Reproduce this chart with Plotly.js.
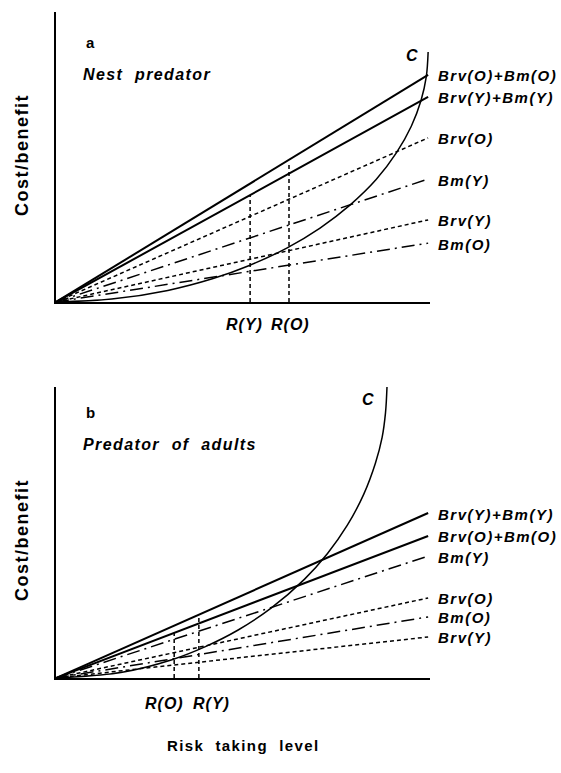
<!DOCTYPE html>
<html>
<head>
<meta charset="utf-8">
<script src="https://cdn.plot.ly/plotly-3.0.1.min.js"></script>
<style>
html,body{margin:0;padding:0;background:#fff;}
#chart{width:561px;height:773px;}
</style>
</head>
<body>
<div id="chart"></div>
<script>
// ---------- DATA (x: risk level 0..10, y: cost/benefit 0..10) ----------
const lineEndX = 9.95;

// Panel a: Nest predator — line values at the right end
const aLabels = ["Brv(O)+Bm(O)", "Brv(Y)+Bm(Y)", "Brv(O)", "Bm(Y)", "Brv(Y)", "Bm(O)"];
const aEnds   = [7.83, 7.07, 5.66, 4.24, 2.83, 2.03];
// Panel a: cost curve C
const aCostX = [0, 1.49, 2.99, 4.18, 5.17, 6.17, 7.06, 7.86, 8.56, 9.10, 9.50, 9.76, 9.90, 9.95];
const aCostY = [0, 0.10, 0.40, 0.80, 1.26, 1.86, 2.55, 3.34, 4.22, 5.14, 6.06, 6.95, 7.76, 8.62];
// Panel a: optimal risk levels R(Y), R(O) and their heights on the summed lines
const aRLabels = ["R(Y)", "R(O)"];
const aRX      = [5.19, 6.23];
const aRTop    = [3.69, 4.83];

// Panel b: Predator of adults — line values at the right end
const bLabels = ["Brv(Y)+Bm(Y)", "Brv(O)+Bm(O)", "Bm(Y)", "Brv(O)", "Bm(O)", "Brv(Y)"];
const bEnds   = [5.67, 4.88, 4.19, 2.75, 2.10, 1.41];
// Panel b: cost curve C
const bCostX = [0, 1.77, 3.10, 3.98, 4.87, 5.75, 6.64, 7.26, 7.79, 8.23, 8.54, 8.72, 8.81, 8.85];
const bCostY = [0, 0.20, 0.63, 1.07, 1.65, 2.40, 3.39, 4.28, 5.25, 6.32, 7.38, 8.27, 9.11, 10.0];
// Panel b: optimal risk levels
const bRLabels = ["R(O)", "R(Y)"];
const bRX      = [3.16, 3.82];
const bRTop    = [1.54, 2.17];

// ---------- BUILD ----------
const W = 561, H = 773;
const FONT = "Liberation Sans, Arial, Helvetica, sans-serif";

function styleFor(label) {
  if (label.indexOf("+") >= 0) return {color: "black", width: 2, dash: "solid"};
  if (label.indexOf("Brv") === 0) return {color: "black", width: 1.5, dash: "4px,3px"};
  return {color: "black", width: 1.5, dash: "13px,5px,2px,5px"};
}

const traces = [];
const annotations = [];
const ls = (t, v) => '<span style="letter-spacing:' + v + 'px">' + t + '</span>';

function addPanel(labels, ends, costX, costY, rX, rTop, xa, ya) {
  labels.forEach((lab, i) => {
    traces.push({
      type: "scatter", mode: "lines", xaxis: xa, yaxis: ya,
      x: [0, lineEndX], y: [0, ends[i]],
      line: styleFor(lab), hoverinfo: "skip"
    });
    annotations.push({
      xref: xa, yref: ya, x: lineEndX, y: ends[i],
      xanchor: "left", yanchor: "middle", xshift: 8, yshift: -1,
      showarrow: false,
      text: ls(lab, 1.5),
      font: {family: FONT, size: 15, color: "black", weight: "bold", style: "italic"}
    });
  });
  traces.push({
    type: "scatter", mode: "lines", xaxis: xa, yaxis: ya,
    x: costX, y: costY,
    line: {color: "black", width: 1.5, shape: "spline", smoothing: 1}, hoverinfo: "skip"
  });
  rX.forEach((rx, i) => {
    traces.push({
      type: "scatter", mode: "lines", xaxis: xa, yaxis: ya,
      x: [rx, rx], y: [0, rTop[i]],
      line: {color: "black", width: 1.5, dash: "4px,3px"}, hoverinfo: "skip"
    });
  });
}

addPanel(aLabels, aEnds, aCostX, aCostY, aRX, aRTop, "x", "y");
addPanel(bLabels, bEnds, bCostX, bCostY, bRX, bRTop, "x2", "y2");

function pa(text, px, py, opts) {
  return Object.assign({
    xref: "paper", yref: "paper", x: px / W, y: 1 - py / H,
    xanchor: "left", yanchor: "middle", showarrow: false, text: text,
    font: {family: FONT, size: 16, color: "black", weight: "bold", style: "italic"}
  }, opts || {});
}
const boldUp = {family: FONT, size: 15, color: "black", weight: "bold", style: "normal"};

// panel a texts
annotations.push(pa("a", 84, 43, {font: boldUp}));
annotations.push(pa(ls("Nest&nbsp;&nbsp;predator", 1.4), 81, 75));
annotations.push(pa("C", 404, 56));
annotations.push(pa(ls(aRLabels[0], 1), 244, 324, {xanchor: "center"}));
annotations.push(pa(ls(aRLabels[1], 1), 290, 324, {xanchor: "center"}));
// panel b texts
annotations.push(pa("b", 84, 412, {font: boldUp}));
annotations.push(pa(ls("Predator&nbsp;&nbsp;of&nbsp;&nbsp;adults", 1.4), 81, 444));
annotations.push(pa("C", 360, 399));
annotations.push(pa(ls(bRLabels[0], 1), 164, 703, {xanchor: "center"}));
annotations.push(pa(ls(bRLabels[1], 1), 211, 703, {xanchor: "center"}));
// axis titles
const titleFont = Object.assign({}, boldUp, {size: 18});
annotations.push(pa(ls("Cost/benefit", 1.5), 22, 155, {xanchor: "center", textangle: -90, font: titleFont}));
annotations.push(pa(ls("Cost/benefit", 1.5), 22, 540, {xanchor: "center", textangle: -90, font: titleFont}));
annotations.push(pa(ls("Risk&nbsp;&nbsp;taking&nbsp;&nbsp;level", 1.4), 243, 745, {xanchor: "center", font: boldUp}));

const axBase = {
  range: [0, 10], showline: true, linecolor: "black", linewidth: 2,
  showgrid: false, zeroline: false, showticklabels: false, ticks: "", fixedrange: true
};
const xDom = [56 / W, 430 / W];
const layout = {
  width: W, height: H, margin: {l: 0, r: 0, t: 0, b: 0},
  paper_bgcolor: "white", plot_bgcolor: "white", showlegend: false,
  font: {family: FONT, color: "black"},
  xaxis: Object.assign({}, axBase, {domain: xDom, anchor: "y"}),
  yaxis: Object.assign({}, axBase, {domain: [1 - 302 / H, 1 - 12 / H], anchor: "x"}),
  xaxis2: Object.assign({}, axBase, {domain: xDom, anchor: "y2"}),
  yaxis2: Object.assign({}, axBase, {domain: [1 - 678 / H, 1 - 387 / H], anchor: "x2"}),
  annotations: annotations
};

Plotly.newPlot("chart", traces, layout, {displayModeBar: false, staticPlot: true});
</script>
</body>
</html>
